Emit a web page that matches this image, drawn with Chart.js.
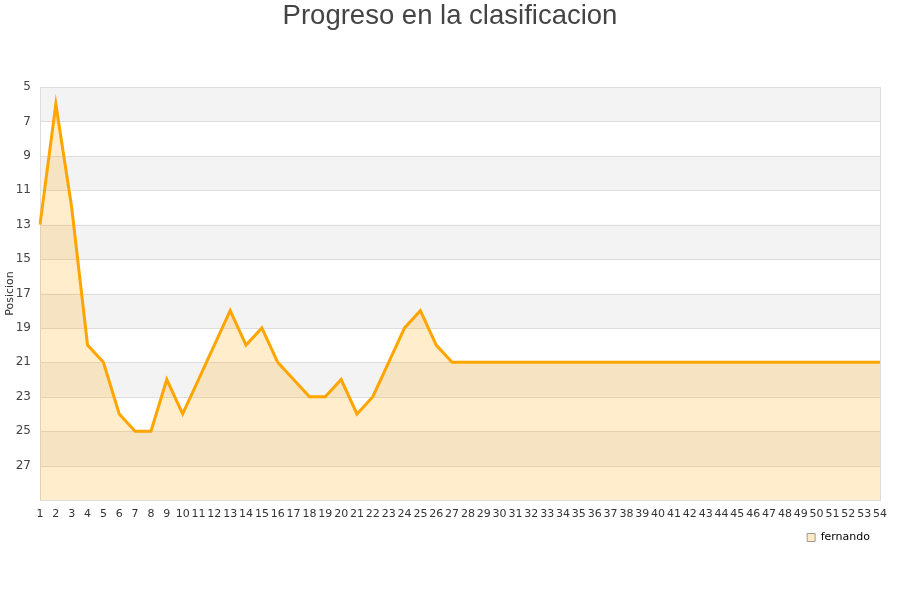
<!DOCTYPE html>
<html>
<head>
<meta charset="utf-8">
<script src="https://cdn.jsdelivr.net/npm/chart.js@4.4.0/dist/chart.umd.min.js"></script>
<style>
  body { margin: 0; background: #fff; }
  #wrap { width: 900px; height: 600px; }
</style>
</head>
<body>
<div id="wrap"><canvas id="progressChart" width="900" height="600"></canvas></div>
<script>
// Jornadas 1..54
const jornadas = [];
for (let j = 1; j <= 54; j++) jornadas.push(String(j));

// Posicion de fernando por jornada
const posiciones = [13, 6, 12, 20, 21, 24, 25, 25, 22, 24,
                    22, 20, 18, 20, 19, 21, 22, 23, 23, 22,
                    24, 23, 21, 19, 18, 20, 21, 21, 21, 21,
                    21, 21, 21, 21, 21, 21, 21, 21, 21, 21,
                    21, 21, 21, 21, 21, 21, 21, 21, 21, 21,
                    21, 21, 21, 21];

const yTicks = [5, 7, 9, 11, 13, 15, 17, 19, 21, 23, 25, 27];
const grayBands = [[5, 7], [9, 11], [13, 15], [17, 19], [21, 23], [25, 27]];

// Alternating background bands + frame
const bandsPlugin = {
    id: 'bands',
    beforeDatasetsDraw(chart) {
        const { ctx, chartArea, scales } = chart;
        ctx.save();
        ctx.fillStyle = '#f3f3f3';
        grayBands.forEach(([a, b]) => {
            const y1 = scales.y.getPixelForValue(a);
            const y2 = scales.y.getPixelForValue(b);
            ctx.fillRect(chartArea.left, y1, chartArea.right - chartArea.left, y2 - y1);
        });
        ctx.strokeStyle = '#dddddd';
        ctx.lineWidth = 1;
        yTicks.forEach(v => {
            const y = Math.round(scales.y.getPixelForValue(v)) + 0.5;
            ctx.beginPath();
            ctx.moveTo(chartArea.left, y);
            ctx.lineTo(chartArea.right, y);
            ctx.stroke();
        });
        ctx.strokeRect(chartArea.left + 0.5, chartArea.top + 0.5,
            chartArea.right - chartArea.left, chartArea.bottom - chartArea.top);
        ctx.restore();
    }
};

const ctx = document.getElementById('progressChart').getContext('2d');
new Chart(ctx, {
    type: 'line',
    data: {
        labels: jornadas,
        datasets: [{
            label: 'fernando',
            data: posiciones,
            borderColor: '#ffa500',
            backgroundColor: 'rgba(255, 165, 0, 0.2)',
            borderWidth: 3,
            pointRadius: 0,
            tension: 0,
            fill: { value: 29 }
        }]
    },
    options: {
        responsive: false,
        animation: false,
        layout: { padding: { left: 0, right: 0, top: 0, bottom: 47 } },
        plugins: {
            title: {
                display: true,
                text: 'Progreso en la clasificacion',
                color: '#444',
                font: { family: 'Liberation Sans', size: 27.5, weight: 'normal' },
                padding: { top: 0, bottom: 54 }
            },
            legend: {
                position: 'bottom',
                align: 'end',
                fullSize: false,
                labels: {
                    color: '#222',
                    font: { family: 'DejaVu Sans', size: 11 },
                    boxWidth: 8,
                    boxHeight: 8,
                    padding: 10,
                    generateLabels: () => [{
                        text: 'fernando',
                        fillStyle: '#ffeac4',
                        strokeStyle: '#999',
                        lineWidth: 1,
                        datasetIndex: 0
                    }]
                }
            },
            tooltip: { enabled: false }
        },
        scales: {
            x: {
                grid: { display: false, drawTicks: false },
                border: { display: false },
                afterFit: axis => { axis.height = 22; },
                ticks: {
                    color: '#333',
                    font: { family: 'DejaVu Sans', size: 11 },
                    maxRotation: 0,
                    autoSkip: false,
                    padding: 8
                }
            },
            y: {
                reverse: true,
                min: 5,
                max: 29,
                afterBuildTicks: axis => { axis.ticks = yTicks.map(v => ({ value: v })); },
                afterFit: axis => { axis.width = 40; },
                grid: { display: false, drawTicks: false },
                border: { display: false },
                title: {
                    display: true,
                    text: 'Posicion',
                    color: '#333',
                    font: { family: 'DejaVu Sans', size: 11 },
                    padding: { top: 4, bottom: 0 }
                },
                ticks: {
                    color: '#444',
                    font: { family: 'DejaVu Sans', size: 12 },
                    padding: 9
                }
            },
            // empty right margin so the title stays centred on the page
            yRight: {
                position: 'right',
                afterFit: axis => { axis.width = 20; },
                grid: { display: false, drawTicks: false },
                border: { display: false },
                ticks: { display: false }
            }
        }
    },
    plugins: [bandsPlugin]
});
</script>
</body>
</html>
